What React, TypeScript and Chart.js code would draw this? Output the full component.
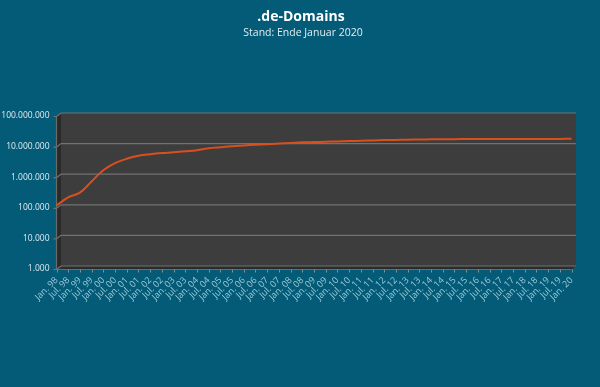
import React, { useEffect, useRef } from "react";
import { Chart, registerables } from "chart.js";

Chart.register(...registerables);

const TITLE = ".de-Domains";
const SUBTITLE = "Stand: Ende Januar 2020";

const categories = [
  "Jan. 98", "Jul. 98", "Jan. 99", "Jul. 99", "Jan. 00", "Jul. 00", "Jan. 01", "Jul. 01",
  "Jan. 02", "Jul. 02", "Jan. 03", "Jul. 03", "Jan. 04", "Jul. 04", "Jan. 05", "Jul. 05",
  "Jan. 06", "Jul. 06", "Jan. 07", "Jul. 07", "Jan. 08", "Jul. 08", "Jan. 09", "Jul. 09",
  "Jan. 10", "Jul. 10", "Jan. 11", "Jul. 11", "Jan. 12", "Jul. 12", "Jan. 13", "Jul. 13",
  "Jan. 14", "Jul. 14", "Jan. 15", "Jul. 15", "Jan. 16", "Jul. 16", "Jan. 17", "Jul. 17",
  "Jan. 18", "Jul. 18", "Jan. 19", "Jul. 19", "Jan. 20",
];

const domains = [
  95000, 175000, 250000, 580000, 1350000, 2300000, 3200000, 4000000,
  4500000, 4900000, 5200000, 5600000, 6100000, 7000000, 7600000, 8200000,
  8700000, 9200000, 9600000, 10000000, 10500000, 11000000, 11200000, 11500000,
  11800000, 12100000, 12400000, 12700000, 13000000, 13200000, 13400000, 13600000,
  13800000, 13900000, 14000000, 14050000, 14100000, 14100000, 14150000, 14150000,
  14200000, 14200000, 14250000, 14250000, 14300000,
];

const yTicks = [1000, 10000, 100000, 1000000, 10000000, 100000000];

const BG = "#035b78";
const DX = 4.5;
const DY = 3.5;

const fmt = (v: number) => String(Math.round(v)).replace(/\B(?=(\d{3})+(?!\d))/g, ".");

const wallPlugin = {
  id: "walls3d",
  beforeDraw(chart: any) {
    const { ctx, width, height } = chart;
    ctx.save();
    ctx.fillStyle = BG;
    ctx.fillRect(0, 0, width, height);
    ctx.textAlign = "center";
    ctx.textBaseline = "middle";
    ctx.fillStyle = "#ffffff";
    ctx.font = "bold 14px 'Open Sans', sans-serif";
    ctx.fillText(TITLE, 301, 17);
    ctx.fillStyle = "#e3edf1";
    ctx.font = "10.5px 'Open Sans', sans-serif";
    ctx.fillText(SUBTITLE, 303, 33);
    ctx.restore();
  },
  beforeDatasetsDraw(chart: any) {
    const { ctx, chartArea: a, scales } = chart;
    ctx.save();
    // back wall
    ctx.fillStyle = "#3d3d3d";
    ctx.fillRect(a.left + DX, a.top, a.right - a.left, a.bottom - a.top);
    // side wall
    ctx.fillStyle = "#2a2a2a";
    ctx.beginPath();
    ctx.moveTo(a.left, a.top + DY);
    ctx.lineTo(a.left + DX, a.top);
    ctx.lineTo(a.left + DX, a.bottom);
    ctx.lineTo(a.left, a.bottom + DY);
    ctx.closePath();
    ctx.fill();
    // floor
    ctx.fillStyle = "#2c2c2c";
    ctx.beginPath();
    ctx.moveTo(a.left, a.bottom + DY);
    ctx.lineTo(a.left + DX, a.bottom);
    ctx.lineTo(a.right + DX, a.bottom);
    ctx.lineTo(a.right, a.bottom + DY);
    ctx.closePath();
    ctx.fill();
    // grid lines
    ctx.strokeStyle = "#727272";
    ctx.lineWidth = 1.2;
    for (const v of yTicks) {
      const y = scales.y.getPixelForValue(v);
      ctx.beginPath();
      ctx.moveTo(a.left - 3, y + DY);
      ctx.lineTo(a.left, y + DY);
      ctx.lineTo(a.left + DX, y);
      ctx.lineTo(a.right + DX, y);
      ctx.stroke();
    }
    // front axis lines
    ctx.strokeStyle = "#6a6a6a";
    ctx.beginPath();
    ctx.moveTo(a.left, a.top + DY);
    ctx.lineTo(a.left, a.bottom + DY);
    ctx.lineTo(a.right, a.bottom + DY);
    ctx.stroke();
    // x tick marks
    ctx.strokeStyle = "#8a8a8a";
    ctx.lineWidth = 1;
    for (let i = 0; i < categories.length; i++) {
      const x = Math.round(scales.x.getPixelForValue(i)) + 0.5;
      ctx.beginPath();
      ctx.moveTo(x, a.bottom + DY);
      ctx.lineTo(x, a.bottom + DY + 3);
      ctx.stroke();
    }
    ctx.restore();
  },
};

export default function App() {
  const ref = useRef<HTMLCanvasElement>(null);
  useEffect(() => {
    document.body.style.margin = "0";
    const chart = new Chart(ref.current!, {
      type: "line",
      data: {
        labels: categories,
        datasets: [
          {
            data: domains,
            borderColor: "#d94f1e",
            borderWidth: 2,
            pointRadius: 0,
            tension: 0.4,
            fill: false,
          },
        ],
      },
      options: {
        animation: false,
        responsive: false,
        layout: { autoPadding: false, padding: { top: 113, right: 28.5, left: 0, bottom: 0 } },
        plugins: { legend: { display: false }, tooltip: { enabled: false } },
        scales: {
          x: {
            type: "category",
            offset: false,
            border: { display: false },
            grid: { display: true, drawOnChartArea: false, color: "transparent", tickLength: 8 },
            ticks: {
              autoSkip: false,
              minRotation: 45,
              maxRotation: 45,
              padding: 1,
              color: "#9dcbd8",
              font: { size: 9, family: "'Open Sans', sans-serif" },
            },
            afterFit: (s: any) => { s.height = 121; },
          },
          y: {
            type: "logarithmic",
            min: 1000,
            max: 100000000,
            border: { display: false },
            grid: { display: true, drawOnChartArea: false, color: "transparent", tickLength: 4 },
            afterBuildTicks: (s: any) => { s.ticks = yTicks.map((v) => ({ value: v })); },
            ticks: {
              padding: 3,
              labelOffset: 3,
              color: "#e3ecf0",
              font: { size: 8.5, family: "'Open Sans', sans-serif" },
              callback: (v: any) => fmt(Number(v)),
            },
            afterFit: (s: any) => { s.width = 56.5; },
          },
        },
      },
      plugins: [wallPlugin],
    });
    return () => chart.destroy();
  }, []);
  return <canvas ref={ref} width={600} height={387} style={{ display: "block", width: 600, height: 387 }} />;
}
